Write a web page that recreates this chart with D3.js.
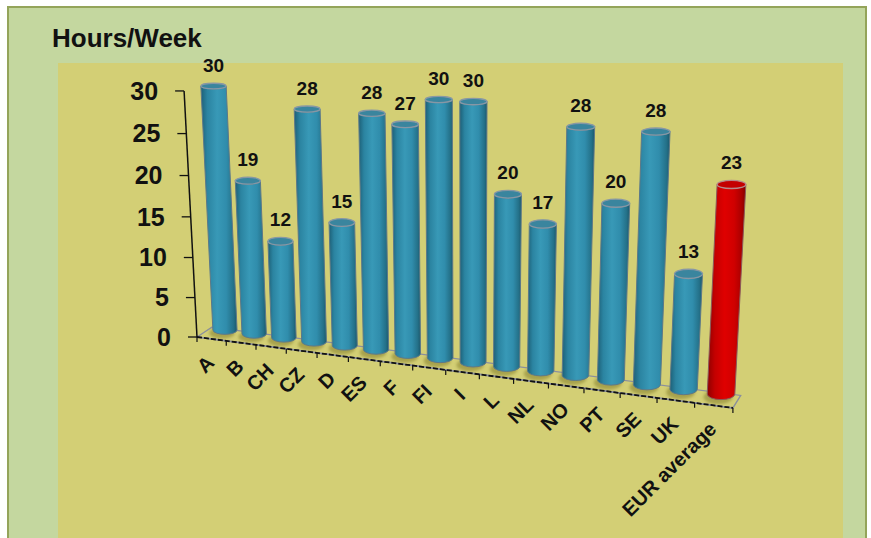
<!DOCTYPE html>
<html>
<head>
<meta charset="utf-8">
<script src="https://cdn.jsdelivr.net/npm/d3@7"></script>
<style>
  html, body { margin: 0; padding: 0; background: #ffffff; }
  svg { display: block; font-family: "Liberation Sans", Arial, sans-serif; }
</style>
</head>
<body>
<svg id="chart" width="871" height="538"></svg>
<script>
// ---- data ----
const categories = ["A", "B", "CH", "CZ", "D", "ES", "F", "FI", "I", "L", "NL", "NO", "PT", "SE", "UK", "EUR average"];
const hours      = [30, 19, 12, 28, 15, 28, 27, 30, 30, 20, 17, 28, 20, 28, 13, 23];
const valueTicks = [0, 5, 10, 15, 20, 25, 30];
const averageCategory = "EUR average";
const titleText = "Hours/Week";

const svg = d3.select("#chart");

// ---- scene scales: category -> slot along the floor, value -> fraction of wall height ----
const xWorld = d3.scaleBand().domain(categories).range([0, categories.length]);
const yWorld = d3.scaleLinear().domain([0, 30]).range([0, 1]);

// perspective camera: homogeneous images of the x (category), y (height), z (depth) axes and of the origin
const cam = {
  cx: [27.36, 1.019, -0.00837],
  cy: [-21.3, -250.2, -0.0456],
  cz: [16.5, -4.3, 0.014],
  o:  [197, 337, 1]
};
function project(x, h, z) {
  const v = [0, 1, 2].map(k => cam.o[k] + x * cam.cx[k] + h * cam.cy[k] + z * cam.cz[k]);
  return { x: v[0] / v[2], y: v[1] / v[2], w: v[2] };
}

const barDepth = 1.0;      // depth of bar axes
const barRadiusZ = 0.5;    // depth radius of cylinders
const barRadiusPx = 12.2;  // screen radius at unit distance
const floorDepth = 1.1;

// ---- background panels ----
svg.append("rect").attr("x", 8).attr("y", 7).attr("width", 858).attr("height", 545)
  .attr("fill", "#c4d79f").attr("stroke", "#94a45a").attr("stroke-width", 2);
svg.append("rect").attr("x", 58).attr("y", 63).attr("width", 785).attr("height", 480)
  .attr("fill", "#d3cf75");

svg.append("text").attr("x", 52).attr("y", 47)
  .attr("font-size", 26).attr("font-weight", "bold").attr("fill", "#111")
  .text(titleText);

// ---- gradients ----
const defs = svg.append("defs");
function cylGradient(id, stops) {
  const g = defs.append("linearGradient").attr("id", id)
    .attr("x1", 0).attr("x2", 1).attr("y1", 0).attr("y2", 0);
  stops.forEach(([o, c]) => g.append("stop").attr("offset", o).attr("stop-color", c));
}
cylGradient("tealBody", [[0, "#1d6077"], [0.18, "#2b84a1"], [0.45, "#3899b7"], [0.7, "#308dac"], [0.9, "#247189"], [1, "#1a586c"]]);
cylGradient("redBody",  [[0, "#8e0000"], [0.2, "#c40000"], [0.45, "#df0000"], [0.7, "#d00000"], [0.9, "#a80000"], [1, "#800000"]]);
defs.append("filter").attr("id", "soft").append("feGaussianBlur").attr("stdDeviation", 1.4);

// ---- floor ----
const nCat = categories.length;
const f0 = project(0, 0, 0), f1 = project(nCat, 0, 0),
      f2 = project(nCat, 0, floorDepth), f3 = project(0, 0, floorDepth);
svg.append("path")
  .attr("d", `M${f0.x},${f0.y}L${f1.x},${f1.y}L${f2.x},${f2.y}L${f3.x},${f3.y}Z`)
  .attr("fill", "#d3cf75").attr("stroke", "#8b8f9e").attr("stroke-width", 1.3);

// bar shadows on the floor
const g = svg.append("g");
categories.forEach((c, i) => {
  const t = xWorld(c) + xWorld.bandwidth() / 2;
  const b = project(t, 0, barDepth);
  const rz = Math.abs(project(t, 0, barDepth + barRadiusZ).y - b.y);
  g.append("ellipse")
    .attr("cx", b.x - 3).attr("cy", b.y + 3)
    .attr("rx", barRadiusPx / b.w * 1.05).attr("ry", rz * 1.3)
    .attr("fill", "#8a8430").attr("opacity", 0.6).attr("filter", "url(#soft)");
});

// front edge: category axis
svg.append("line").attr("x1", f0.x).attr("y1", f0.y).attr("x2", f1.x).attr("y2", f1.y)
  .attr("stroke", "#8b8f9e").attr("stroke-width", 1.6);
svg.append("line").attr("x1", f0.x).attr("y1", f0.y).attr("x2", f1.x).attr("y2", f1.y)
  .attr("stroke", "#111").attr("stroke-width", 1.8).attr("stroke-dasharray", "5,2");
d3.range(nCat + 1).forEach(k => {
  const p = project(k, 0, 0);
  svg.append("line").attr("x1", p.x).attr("y1", p.y).attr("x2", p.x).attr("y2", p.y + 5)
    .attr("stroke", "#111").attr("stroke-width", 1.2);
});

// ---- value axis ----
const a0 = project(0, 0, 0), a1 = project(0, 1, 0);
svg.append("line").attr("x1", a0.x).attr("y1", a0.y).attr("x2", a1.x).attr("y2", a1.y)
  .attr("stroke", "#111").attr("stroke-width", 1.5);
valueTicks.forEach(v => {
  const p = project(0, yWorld(v), 0);
  svg.append("line").attr("x1", p.x - 9).attr("y1", p.y).attr("x2", p.x).attr("y2", p.y)
    .attr("stroke", "#111").attr("stroke-width", 1.3);
  svg.append("text").attr("x", p.x - 26).attr("y", p.y).attr("dy", "0.35em")
    .attr("text-anchor", "end").attr("font-size", 25).attr("font-weight", "bold").attr("fill", "#111")
    .text(v);
});

// ---- cylinders ----
categories.forEach((c, i) => {
  const t = xWorld(c) + xWorld.bandwidth() / 2;
  const h = yWorld(hours[i]);
  const b = project(t, 0, barDepth), tp = project(t, h, barDepth);
  const rxb = barRadiusPx / b.w, rxt = barRadiusPx / tp.w;
  const ryb = Math.abs(project(t, 0, barDepth + barRadiusZ).y - b.y);
  const ryt = Math.abs(project(t, h, barDepth + barRadiusZ).y - tp.y);
  const isAvg = c === averageCategory;

  const body = `M${tp.x - rxt},${tp.y}L${b.x - rxb},${b.y}` +
    `A${rxb},${ryb} 0 0 0 ${b.x + rxb},${b.y}` +
    `L${tp.x + rxt},${tp.y}` +
    `A${rxt},${ryt} 0 0 1 ${tp.x - rxt},${tp.y}Z`;
  svg.append("path").attr("d", body)
    .attr("fill", isAvg ? "url(#redBody)" : "url(#tealBody)")
    .attr("stroke", isAvg ? "#8a5a5a" : "#5d7888").attr("stroke-width", 1);
  svg.append("ellipse").attr("cx", tp.x).attr("cy", tp.y).attr("rx", rxt).attr("ry", ryt)
    .attr("fill", isAvg ? "#c40000" : "#3a859e")
    .attr("stroke", isAvg ? "#b58a8a" : "#8797a5").attr("stroke-width", 1.3);

  svg.append("text").attr("x", tp.x).attr("y", tp.y - ryt - 11)
    .attr("text-anchor", "middle").attr("font-size", 19).attr("font-weight", "bold").attr("fill", "#111")
    .text(hours[i]);

  const f = project(t, 0, 0);
  svg.append("text")
    .attr("transform", `translate(${f.x + 4},${f.y + 25}) rotate(-45)`)
    .attr("text-anchor", "end").attr("font-size", 20).attr("font-weight", "bold").attr("fill", "#111")
    .text(c);
});
</script>
</body>
</html>
